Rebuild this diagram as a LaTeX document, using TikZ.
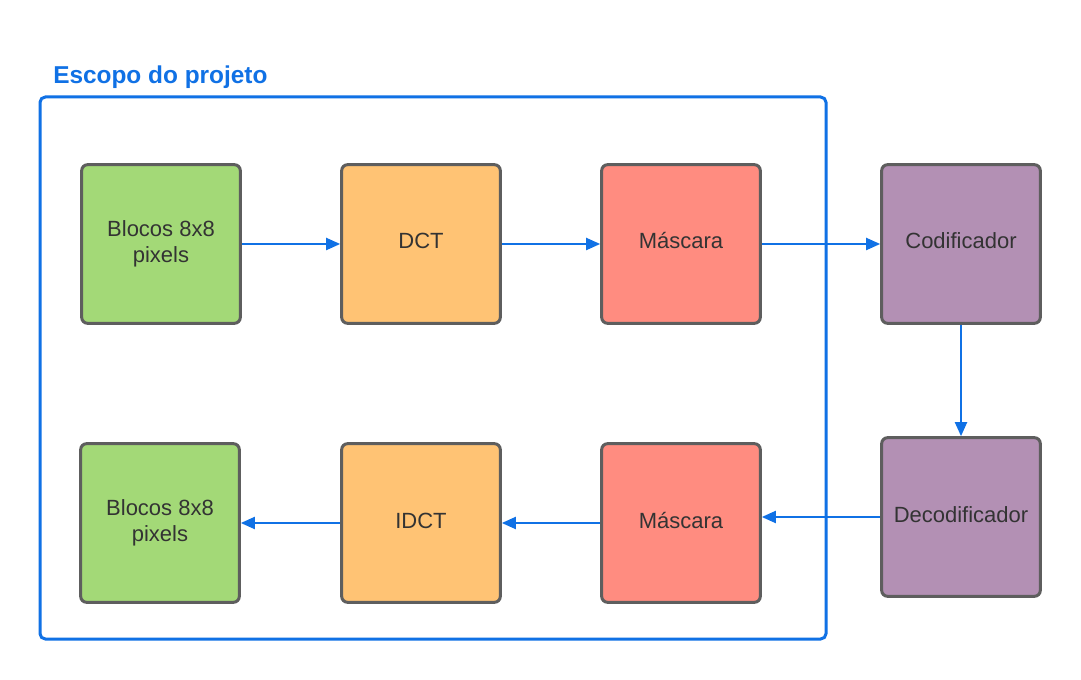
\documentclass[tikz,border=0pt]{standalone}
\usepackage{fontspec}
\setmainfont{Liberation Sans}
\usetikzlibrary{arrows.meta}
\definecolor{lblue}{HTML}{1071E5}
\definecolor{lgreen}{HTML}{A3D977}
\definecolor{lorange}{HTML}{FFC374}
\definecolor{lred}{HTML}{FF8C80}
\definecolor{lpurple}{HTML}{B390B4}
\definecolor{lborder}{HTML}{5E5E5E}
\definecolor{ltext}{HTML}{333333}
\tikzset{
  blk/.style={draw=lborder, line width=2.25pt, rounded corners=4.5pt,
    minimum width=119pt, minimum height=119pt, inner sep=0pt,
    text=ltext, align=center, font=\fontsize{16.5}{19.5}\selectfont},
  oneline/.style={text height=12pt, text depth=4.5pt},
  conn/.style={draw=lblue, line width=1.5pt, -{Triangle[length=10.5pt,width=9pt]}},
}
\begin{document}
\begin{tikzpicture}[x=0.75pt,y=-0.75pt]
\path[use as bounding box, fill=white] (0,0) rectangle (1081,680);
\draw[lblue, line width=2.25pt, rounded corners=4pt] (40,97) rectangle (826,639);
\node[anchor=base west, inner sep=0pt, text=lblue, font=\bfseries\fontsize{18.3}{21}\selectfont] (title) at (53,84) {Escopo do projeto};
\node[blk, fill=lgreen] (b1) at (161,244) {Blocos 8x8\\pixels};
\node[blk, oneline, fill=lorange] (dct) at (421,244) {DCT};
\node[blk, oneline, fill=lred] (m1) at (681,244) {Máscara};
\node[blk, oneline, fill=lpurple] (cod) at (961,244) {Codificador};
\node[blk, oneline, fill=lpurple] (dec) at (961,517) {Decodificador};
\node[blk, oneline, fill=lred] (m2) at (681,523) {Máscara};
\node[blk, oneline, fill=lorange] (idct) at (421,523) {IDCT};
\node[blk, fill=lgreen] (b2) at (160,523) {Blocos 8x8\\pixels};
\draw[conn] (b1.east) -- (dct.west);
\draw[conn] (dct.east) -- (m1.west);
\draw[conn] (m1.east) -- (cod.west);
\draw[conn] (cod.south) -- (dec.north);
\draw[conn] (dec.west) -- (dec.west -| m2.east);
\draw[conn] (m2.west) -- (idct.east);
\draw[conn] (idct.west) -- (b2.east);
\end{tikzpicture}
\end{document}
